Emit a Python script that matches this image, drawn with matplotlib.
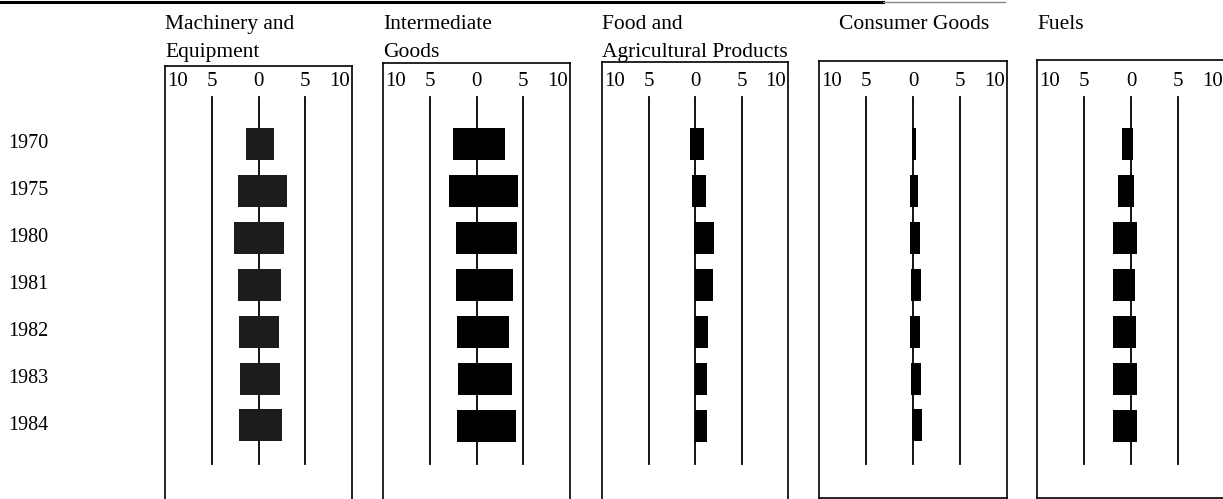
import matplotlib
matplotlib.use("Agg")
import matplotlib.pyplot as plt
from matplotlib.lines import Line2D

years = ["1970", "1975", "1980", "1981", "1982", "1983", "1984"]
titles = ["Machinery and\nEquipment", "Intermediate\nGoods",
          "Food and\nAgricultural Products", "Consumer Goods", "Fuels"]

# left (negative) and right (positive) extents of each bar
machinery_lo = [-1.3, -2.2, -2.6, -2.2, -2.1, -2.0, -2.1]
machinery_hi = [1.7, 3.0, 2.7, 2.4, 2.2, 2.25, 2.5]
intermediate_lo = [-2.55, -2.9, -2.2, -2.2, -2.05, -2.0, -2.05]
intermediate_hi = [3.05, 4.45, 4.3, 3.95, 3.45, 3.75, 4.25]
food_lo = [-0.55, -0.3, -0.1, -0.05, -0.05, 0.0, 0.0]
food_hi = [0.95, 1.2, 2.05, 1.9, 1.35, 1.3, 1.3]
consumer_lo = [-0.15, -0.3, -0.3, -0.2, -0.3, -0.2, -0.15]
consumer_hi = [0.35, 0.55, 0.7, 0.9, 0.7, 0.85, 0.95]
fuels_lo = [-0.95, -1.4, -1.95, -1.95, -1.95, -1.9, -1.95]
fuels_hi = [0.2, 0.3, 0.6, 0.45, 0.55, 0.6, 0.65]

lows = [machinery_lo, intermediate_lo, food_lo, consumer_lo, fuels_lo]
highs = [machinery_hi, intermediate_hi, food_hi, consumer_hi, fuels_hi]
bar_colors = ["#1c1c1c", "black", "black", "black", "black"]

tick_vals = [-10, -5, 0, 5, 10]
tick_txt = ["10", "5", "0", "5", "10"]

W, H = 1223, 499
fig = plt.figure(figsize=(W / 100, H / 100), dpi=100)
plt.rcParams['font.family'] = ['Liberation Serif', 'DejaVu Serif']

# layout in pixels (from top)
row0, rowstep = 143.8, 46.95
panel_left = [165, 383, 602, 819, 1037]
panel_right = [352, 570, 788, 1007, 1225]
panel_top = [66, 63, 62, 61, 60]
panel_bot = [530, 530, 530, 498, 498]
title_x = [165, 383, 602, 839, 1037]
line_top, line_bot = 97, 464
bar_h = 32 / rowstep
fs_title = 15.5
fs_tick = 15
fs_year = 14.5


def py(p):
    return (p - row0) / rowstep


for k in range(5):
    L, R, T, B = panel_left[k], panel_right[k], panel_top[k], panel_bot[k]
    ax = fig.add_axes([L / W, 1 - B / H, (R - L) / W, (B - T) / H])
    ax.set_xlim(-10, 10)
    ax.set_ylim(py(B), py(T))
    ax.set_xticks([])
    ax.set_yticks([])
    for s in ax.spines.values():
        s.set_linewidth(1.2)
        s.set_color("black")
    for v in (-5, 0, 5):
        ax.plot([v, v], [py(line_top), py(line_bot)], color="black", lw=1.3, zorder=1)
    for i in range(len(years)):
        lo, hi = lows[k][i], highs[k][i]
        ax.barh(i, hi - lo, left=lo, height=bar_h, color=bar_colors[k], zorder=2)
    for v, t in zip(tick_vals, tick_txt):
        ha = "center"
        xx = v
        if v == -10:
            ha, xx = "left", -9.8
        elif v == 10:
            ha, xx = "right", 9.8
        ax.text(xx, py(82), t, ha=ha, va="center", fontsize=fs_tick)
    lines = titles[k].split("\n")
    for j, ln in enumerate(lines):
        fig.text(title_x[k] / W, 1 - (29 + 28 * j) / H, ln, ha="left",
                 va="baseline", fontsize=fs_title)

for i, y in enumerate(years):
    fig.text(8 / W, 1 - (row0 + rowstep * i) / H, y, ha="left", va="center",
             fontsize=fs_year)

fig.add_artist(Line2D([0, 883 / W], [1 - 2 / H, 1 - 2 / H], color="black", lw=2.2,
                      transform=fig.transFigure))
fig.add_artist(Line2D([883 / W, 1005 / W], [1 - 1.5 / H, 1 - 1.5 / H], color="#888888",
                      lw=1.0, transform=fig.transFigure))

fig.savefig("out.png", dpi=100)
